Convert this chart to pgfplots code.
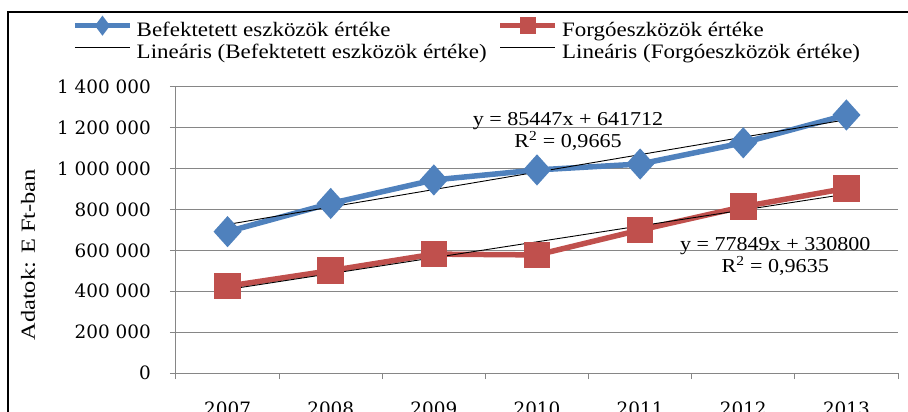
\documentclass[border=0pt]{standalone}
\usepackage{fontspec}
\setmainfont{Liberation Serif}
\newfontfamily\tickfont{DejaVu Serif}
\usepackage{graphicx}
\usepackage{pgfplots}
\pgfplotsset{compat=1.18}
\definecolor{serblue}{HTML}{4F81BD}
\definecolor{serred}{HTML}{C0504D}
\definecolor{gridgray}{HTML}{868686}
% widen Times-like glyphs towards the Cambria look of the original
\newcommand\widetxt[2][1.2]{\scalebox{#1}[1]{#2}}
\newcommand\legtxt[1]{\widetxt[1.12]{#1}}

\begin{document}
\begin{tikzpicture}
\begin{axis}[
    width=722bp, height=286bp, scale only axis,
    xmin=0.5, xmax=7.5, ymin=0, ymax=1400000,
    axis x line*=bottom, axis y line*=left,
    axis line style={gridgray, line width=1bp},
    ymajorgrids, major grid style={gridgray, line width=1bp},
    xtick={1,2,3,4,5,6,7},
    xticklabels={2007,2008,2009,2010,2011,2012,2013},
    minor xtick={0.5,1.5,2.5,3.5,4.5,5.5,6.5,7.5},
    major x tick style={draw=none},
    minor x tick style={gridgray, line width=1bp},
    ytick={0,200000,400000,600000,800000,1000000,1200000,1400000},
    yticklabels={0,200 000,400 000,600 000,800 000,1 000 000,1 200 000,1 400 000},
    scaled y ticks=false,
    ytick style={gridgray, line width=1bp},
    tick align=outside,
    major tick length=6bp, minor tick length=6bp,
    xticklabel style={font=\tickfont\fontsize{18.4bp}{20bp}\selectfont, anchor=base, inner sep=0pt, yshift=-36bp},
    yticklabel style={font=\tickfont\fontsize{18.4bp}{20bp}\selectfont, anchor=east, inner sep=0pt, xshift=-19bp},
    ylabel={\widetxt[1.22]{Adatok: E Ft-ban}},
    every axis y label/.style={at={(axis description cs:-0.205,0.413)}, rotate=90, anchor=center,
        font=\fontsize{20bp}{21bp}\selectfont},
    legend columns=2,
    legend cell align=left,
    legend style={draw=none, fill=none, inner sep=0pt,
        at={(axis description cs:-0.144,1.2343)}, anchor=north west,
        font=\fontsize{20.5bp}{22bp}\selectfont,
        nodes={inner sep=0pt, text height=15bp, text depth=7bp},
        /tikz/every odd column/.append style={column sep=4bp},
        /tikz/every even column/.append style={column sep=11bp}},
    legend image code/.code={\draw[mark repeat=2, mark phase=2, #1, yshift=6.5bp]
        plot coordinates {(0bp,0bp) (27.5bp,0bp) (55bp,0bp)};},
]
% legend samples (smaller markers than in the plot)
\addlegendimage{serblue, line width=5.5bp, mark=diamond*, mark size=5.5bp}
\addlegendimage{serred, line width=5.5bp, mark=square*, mark size=5.5bp}
\addlegendimage{black, line width=0.9bp, no markers}
\addlegendimage{black, line width=0.9bp, no markers}

\addplot[forget plot, serblue, line width=5.5bp, mark=diamond*, mark size=11.5bp,
    mark options={xscale=1.2}] coordinates {
    (1,692000) (2,830000) (3,945000) (4,994000) (5,1023000) (6,1127000) (7,1263000)
};
\addplot[forget plot, serred, line width=5.5bp, mark=square*, mark size=10.5bp] coordinates {
    (1,425000) (2,501000) (3,582000) (4,578000) (5,700000) (6,814000) (7,904000)
};
% trend lines: y = 85447x + 641712 and y = 77849x + 330800
\addplot[forget plot, black, line width=0.9bp, no markers] coordinates {
    (1,727159) (2,812606) (3,898053) (4,983500) (5,1068947) (6,1154394) (7,1239841)
};
\addplot[forget plot, black, line width=0.9bp, no markers] coordinates {
    (1,408649) (2,486498) (3,564347) (4,642196) (5,720045) (6,797894) (7,875743)
};
\legend{\legtxt{Befektetett eszközök értéke}, \legtxt{Forgóeszközök értéke},
    \legtxt{Lineáris (Befektetett eszközök értéke)}, \legtxt{Lineáris (Forgóeszközök értéke)}}

\node[anchor=base, font=\fontsize{19.7bp}{21bp}\selectfont]
    at (axis description cs:0.543,0.867) {\widetxt[1.12]{y = 85447x + 641712}};
\node[anchor=base, font=\fontsize{19.7bp}{21bp}\selectfont]
    at (axis description cs:0.543,0.787) {\widetxt[1.12]{R\textsuperscript{2} = 0,9665}};
\node[anchor=base, font=\fontsize{19.7bp}{21bp}\selectfont]
    at (axis description cs:0.830,0.430) {\widetxt[1.12]{y = 77849x + 330800}};
\node[anchor=base, font=\fontsize{19.7bp}{21bp}\selectfont]
    at (axis description cs:0.830,0.350) {\widetxt[1.12]{R\textsuperscript{2} = 0,9635}};
\end{axis}
\draw[line width=1.2bp] (-168bp,-80bp) -- (-168bp,361bp) -- (760bp,361bp);
\pgfresetboundingbox
\path[use as bounding box] (-176bp,-39bp) rectangle (732bp,373bp);
\end{tikzpicture}
\end{document}
